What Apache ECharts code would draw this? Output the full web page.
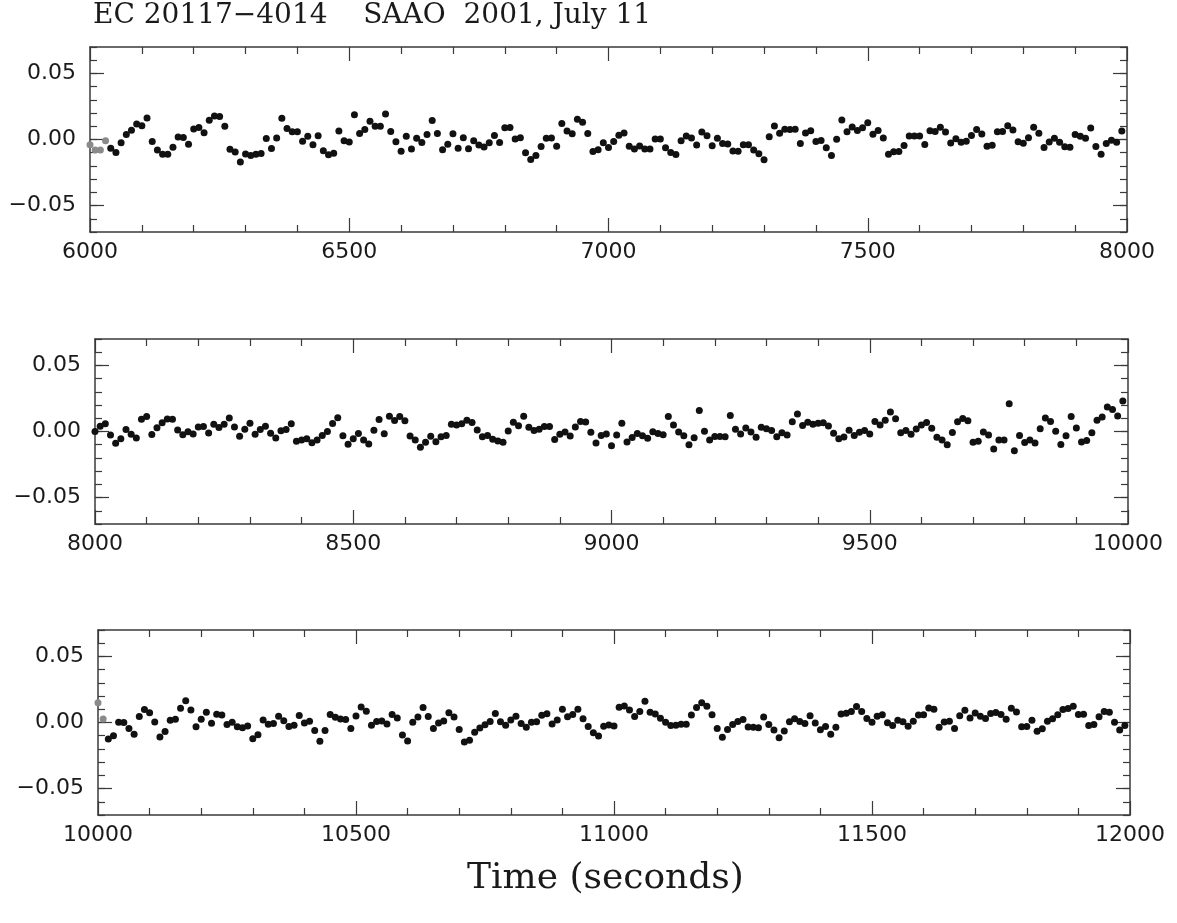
<!DOCTYPE html>
<html><head><meta charset="utf-8">
<script src="https://cdn.jsdelivr.net/npm/echarts@6/dist/echarts.min.js"></script>
<style>html,body{margin:0;padding:0;background:#fff}#c{width:1177px;height:923px}</style>
</head><body><div id="c"></div>
<script>
const titleText = 'EC 20117\u22124014    SAAO  2001, July 11';
const xAxisTitle = 'Time (seconds)';

const t1 = [6000,6010,6020,6030,6040,6050,6060,6070,6080,6090,6100,6110,6120,6130,6140,6150,6160,6170,6180,6190,
6200,6210,6220,6230,6240,6250,6260,6270,6280,6290,6300,6310,6320,6330,6340,6350,6360,6370,6380,6390,
6400,6410,6420,6430,6440,6450,6460,6470,6480,6490,6500,6510,6520,6530,6540,6550,6560,6570,6580,6590,
6600,6610,6620,6630,6640,6650,6660,6670,6680,6690,6700,6710,6720,6730,6740,6750,6760,6770,6780,6790,
6800,6810,6820,6830,6840,6850,6860,6870,6880,6890,6900,6910,6920,6930,6940,6950,6960,6970,6980,6990,
7000,7010,7020,7030,7040,7050,7060,7070,7080,7090,7100,7110,7120,7130,7140,7150,7160,7170,7180,7190,
7200,7210,7220,7230,7240,7250,7260,7270,7280,7290,7300,7310,7320,7330,7340,7350,7360,7370,7380,7390,
7400,7410,7420,7430,7440,7450,7460,7470,7480,7490,7500,7510,7520,7530,7540,7550,7560,7570,7580,7590,
7600,7610,7620,7630,7640,7650,7660,7670,7680,7690,7700,7710,7720,7730,7740,7750,7760,7770,7780,7790,
7800,7810,7820,7830,7840,7850,7860,7870,7880,7890,7900,7910,7920,7930,7940,7950,7960,7970,7980,7990];
const y1 = [-0.004,-0.008,-0.008,-0.001,-0.0067,-0.0098,-0.0025,0.0037,0.007,0.0117,
0.0105,0.0162,-0.0015,-0.0079,-0.0112,-0.0112,-0.0059,0.0018,0.0016,-0.0035,
0.008,0.009,0.0052,0.0145,0.0178,0.0175,0.0101,-0.0074,-0.0094,-0.017,
-0.011,-0.0121,-0.0111,-0.0106,0.0007,-0.0069,0.0011,0.016,0.0084,0.0058,
0.0058,-0.0013,0.0024,-0.0039,0.0029,-0.0085,-0.0116,-0.0104,0.0065,-0.0009,
-0.0019,0.0188,0.0046,0.0076,0.0138,0.01,0.01,0.0193,0.0061,-0.0017,
-0.0089,0.0025,-0.0072,0.0009,-0.0022,0.0038,0.0144,0.0045,-0.0077,-0.0036,
0.0044,-0.0067,0.0013,-0.007,-0.001,-0.0041,-0.0057,-0.0024,0.0031,-0.0022,
0.0088,0.0091,0.0004,0.0014,-0.01,-0.0151,-0.0121,-0.0053,0.001,0.0012,
-0.0052,0.0122,0.0064,0.0043,0.0154,0.0131,0.0045,-0.009,-0.0078,-0.0025,
-0.0061,-0.0015,0.0032,0.0049,-0.0052,-0.0072,-0.005,-0.0071,-0.0071,0.0004,
0.0004,-0.0062,-0.0098,-0.0113,-0.001,0.0027,0.0012,-0.0042,0.0057,0.0028,
-0.0048,0.001,-0.0031,-0.0034,-0.0087,-0.0088,-0.004,-0.004,-0.0079,-0.0107,
-0.0153,0.0021,0.0102,0.0048,0.0078,0.0075,0.0078,-0.0031,0.0049,0.0067,
-0.0015,-0.0007,-0.0063,-0.0122,0.0002,0.0148,0.0059,0.0094,0.0068,0.0088,
0.0126,0.004,0.0069,0.0011,-0.0111,-0.0093,-0.0091,-0.0046,0.0027,0.0026,
0.0026,-0.0038,0.0066,0.006,0.0092,0.0057,-0.0027,0.0006,-0.002,-0.0013,
0.003,0.0075,0.0042,-0.0052,-0.0043,0.0058,0.006,0.0105,0.0072,-0.0017,
-0.0029,0.0013,0.0093,0.0047,-0.0061,-0.0019,0.0009,-0.002,-0.0055,-0.0058,
0.0037,0.0024,0.0009,0.0087,-0.0053,-0.0111,-0.0031,-0.0006,-0.0021,0.0064];

const t2 = [8000,8010,8020,8030,8040,8050,8060,8070,8080,8090,8100,8110,8120,8130,8140,8150,8160,8170,8180,8190,
8200,8210,8220,8230,8240,8250,8260,8270,8280,8290,8300,8310,8320,8330,8340,8350,8360,8370,8380,8390,
8400,8410,8420,8430,8440,8450,8460,8470,8480,8490,8500,8510,8520,8530,8540,8550,8560,8570,8580,8590,
8600,8610,8620,8630,8640,8650,8660,8670,8680,8690,8700,8710,8720,8730,8740,8750,8760,8770,8780,8790,
8800,8810,8820,8830,8840,8850,8860,8870,8880,8890,8900,8910,8920,8930,8940,8950,8960,8970,8980,8990,
9000,9010,9020,9030,9040,9050,9060,9070,9080,9090,9100,9110,9120,9130,9140,9150,9160,9170,9180,9190,
9200,9210,9220,9230,9240,9250,9260,9270,9280,9290,9300,9310,9320,9330,9340,9350,9360,9370,9380,9390,
9400,9410,9420,9430,9440,9450,9460,9470,9480,9490,9500,9510,9520,9530,9540,9550,9560,9570,9580,9590,
9600,9610,9620,9630,9640,9650,9660,9670,9680,9690,9700,9710,9720,9730,9740,9750,9760,9770,9780,9790,
9800,9810,9820,9830,9840,9850,9860,9870,9880,9890,9900,9910,9920,9930,9940,9950,9960,9970,9980,9990];
const y2 = [0,0.004,0.0058,-0.0027,-0.0088,-0.0055,0.0016,-0.0021,-0.0049,0.0093,
0.0113,-0.0022,0.0028,0.0066,0.0094,0.0093,0.0011,-0.0024,-0.0002,-0.0018,
0.0035,0.0037,-0.0011,0.0055,0.0031,0.0054,0.0102,0.0035,-0.0036,0.0017,
0.0062,-0.002,0.0015,0.004,-0.0013,-0.0049,0.0006,0.0016,0.0059,-0.0074,
-0.0064,-0.0054,-0.0085,-0.0065,-0.003,0,0.0061,0.0104,-0.0032,-0.0096,
-0.0055,-0.0015,-0.0064,-0.0095,0.0009,0.009,-0.0017,0.0115,0.0084,0.0114,
0.0081,-0.0034,-0.0065,-0.0119,-0.0081,-0.0036,-0.0077,-0.0039,-0.003,0.0054,
0.0049,0.0059,0.0086,0.0068,0.0011,-0.004,-0.003,-0.0058,-0.0071,-0.0082,
0.0004,0.007,0.0044,0.0115,0.0033,0.0007,0.0017,0.0037,0.0037,-0.0061,
-0.002,-0.0003,-0.0034,0.0035,0.0075,0.0072,-0.0005,-0.0087,-0.0031,-0.0019,
-0.0108,-0.0027,0.0062,-0.0079,-0.0046,-0.0016,-0.0032,-0.0052,-0.0002,-0.0015,
-0.0025,0.0114,0.005,-0.0004,-0.0032,-0.0101,-0.0048,0.0158,0.0002,-0.0065,
-0.0037,-0.0037,-0.004,0.0122,0.0017,-0.0019,0.0027,-0.0004,-0.0043,0.0033,
0.002,0.0007,-0.0039,-0.0009,-0.0027,0.0074,0.0132,0.0045,0.007,0.0055,
0.0062,0.0067,0.0041,-0.0013,-0.0054,-0.0042,0.0009,-0.003,-0.0005,0.0007,
-0.0018,0.0076,0.005,0.0085,0.0148,0.0097,-0.001,0.0007,-0.0021,0.0019,
0.0049,0.0069,0.0025,-0.0044,-0.0065,-0.01,-0.0007,0.0074,0.0099,0.0081,
-0.0082,-0.0073,-0.0004,-0.0027,-0.0132,-0.0064,-0.0064,0.021,-0.0146,-0.003,
-0.0084,-0.0064,-0.0087,0.002,0.0103,0.0075,0.0001,-0.0099,-0.0033,0.0114,
0.0027,-0.008,-0.0068,-0.001,0.0086,0.0109,0.0185,0.0167,0.0118,0.023];

const t3 = [10000,10010,10020,10030,10040,10050,10060,10070,10080,10090,10100,10110,10120,10130,10140,10150,10160,10170,10180,10190,
10200,10210,10220,10230,10240,10250,10260,10270,10280,10290,10300,10310,10320,10330,10340,10350,10360,10370,10380,10390,
10400,10410,10420,10430,10440,10450,10460,10470,10480,10490,10500,10510,10520,10530,10540,10550,10560,10570,10580,10590,
10600,10610,10620,10630,10640,10650,10660,10670,10680,10690,10700,10710,10720,10730,10740,10750,10760,10770,10780,10790,
10800,10810,10820,10830,10840,10850,10860,10870,10880,10890,10900,10910,10920,10930,10940,10950,10960,10970,10980,10990,
11000,11010,11020,11030,11040,11050,11060,11070,11080,11090,11100,11110,11120,11130,11140,11150,11160,11170,11180,11190,
11200,11210,11220,11230,11240,11250,11260,11270,11280,11290,11300,11310,11320,11330,11340,11350,11360,11370,11380,11390,
11400,11410,11420,11430,11440,11450,11460,11470,11480,11490,11500,11510,11520,11530,11540,11550,11560,11570,11580,11590,
11600,11610,11620,11630,11640,11650,11660,11670,11680,11690,11700,11710,11720,11730,11740,11750,11760,11770,11780,11790,
11800,11810,11820,11830,11840,11850,11860,11870,11880,11890,11900,11910,11920,11930,11940,11950,11960,11970,11980,11990];
const y3 = [0.0149,0.0027,-0.0125,-0.01,0.0001,0,-0.0046,-0.0089,0.0045,0.0098,
0.0074,0.0003,-0.0109,-0.0069,0.0017,0.0024,0.0108,0.0165,0.0094,-0.0033,
0.0025,0.0078,-0.0006,0.0062,0.0056,-0.0015,0.0002,-0.0033,-0.0039,-0.0027,
-0.0123,-0.0093,0.0018,-0.0013,-0.0008,0.0047,0.0014,-0.003,-0.002,0.0053,
-0.0003,0.0009,-0.006,-0.0141,-0.006,0.0061,0.004,0.0027,0.0022,-0.0045,
0.0049,0.0117,0.0086,-0.0021,0.0007,0.0011,-0.0012,0.0061,0.0035,-0.0094,
-0.014,0.0001,0.0041,0.0114,0.0046,-0.0046,-0.0003,0.0012,0.0074,0.0041,
-0.0053,-0.0147,-0.0135,-0.0074,-0.0042,-0.0017,0.0008,0.0068,0.0005,-0.0021,
0.0019,0.0047,-0.0007,-0.0035,0.0002,0.0005,0.0055,0.0067,-0.0012,0.0018,
0.0101,0.0043,0.006,0.01,0.0029,-0.003,-0.0078,-0.0102,-0.0028,-0.0019,
-0.0027,0.0115,0.0124,0.0094,0.0045,0.0083,0.0161,0.0077,0.0064,0.0033,
0.0002,-0.0023,-0.0021,-0.0014,-0.0014,0.0056,0.0114,0.0149,0.0123,0.0059,
-0.0045,-0.0111,-0.0053,-0.0015,0.0007,0.0022,-0.0034,-0.0035,-0.004,0.0041,
-0.0016,-0.0056,-0.0115,-0.0065,0.0006,0.0028,0.0007,-0.0008,0.0052,-0.0004,
-0.0055,-0.003,-0.0089,-0.0036,0.0065,0.007,0.0084,0.0122,0.0084,0.003,
0.0002,0.0047,0.0059,-0.0002,-0.0023,0.0017,0.0005,-0.0029,0.0009,0.0056,
0.0059,0.0109,0.0101,-0.0036,0.0004,0.0009,-0.0045,0.0051,0.0093,0.0035,
0.0072,0.0047,0.0031,0.0069,0.0076,0.006,0.0025,0.0108,0.008,-0.0032,
-0.003,0.0017,-0.0066,-0.0047,0.0009,0.0029,0.0058,0.0099,0.0106,0.0123,
0.006,0.0062,-0.0022,-0.0015,0.0043,0.0083,0.0077,0.0001,-0.0057,-0.0022];

const xRanges = [[6000, 8000], [8000, 10000], [10000, 12000]];
const yRange = [-0.07, 0.07];
const yMajorTicks = [-0.05, 0, 0.05];
const yMinorTicks = [-0.07, -0.06, -0.05, -0.04, -0.03, -0.02, -0.01, 0, 0.01, 0.02, 0.03, 0.04, 0.05, 0.06, 0.07];
const xMajorInterval = 500;
const xMinorSplit = 5;
// number of leading points drawn in grey in each panel (as in the reference)
const greyLeading = [4, 0, 2];

const panels = [
  {t: t1, y: y1},
  {t: t2, y: y2},
  {t: t3, y: y3}
];
const gridBoxes = [
  {left: 90, top: 47, width: 1037, height: 185},
  {left: 95, top: 339, width: 1033, height: 185},
  {left: 98, top: 630, width: 1032, height: 185}
];

const frameColor = '#3a3a3a';
const textColor = '#1a1a1a';
const labelFont = 'DejaVu Sans';
const serifFont = 'DejaVu Serif';

const xAxes = [], yAxes = [], series = [];
panels.forEach((p, i) => {
  const [xmin, xmax] = xRanges[i];
  const lineStyle = {color: frameColor, width: 1.5};
  const tickStyle = {color: frameColor, width: 1.2};
  xAxes.push({
    gridIndex: i, type: 'value', position: 'bottom', min: xmin, max: xmax, interval: xMajorInterval,
    axisLine: {show: true, onZero: false, lineStyle},
    axisTick: {show: true, inside: true, length: 14, lineStyle: tickStyle},
    minorTick: {show: true, splitNumber: xMinorSplit, length: 7, lineStyle: tickStyle},
    axisLabel: {show: true, margin: 9, color: textColor, fontFamily: labelFont, fontSize: 22, formatter: v => String(v)},
    splitLine: {show: false}
  });
  xAxes.push({
    gridIndex: i, type: 'value', position: 'top', min: xmin, max: xmax, interval: xMajorInterval,
    axisLine: {show: true, onZero: false, lineStyle},
    axisTick: {show: true, inside: true, length: 14, lineStyle: tickStyle},
    minorTick: {show: true, splitNumber: xMinorSplit, length: 7, lineStyle: tickStyle},
    axisLabel: {show: false}, splitLine: {show: false}
  });
  yAxes.push({
    gridIndex: i, type: 'value', position: 'left', min: yRange[0], max: yRange[1],
    axisLine: {show: true, onZero: false, lineStyle},
    axisTick: {show: true, inside: true, length: 14, customValues: yMajorTicks, lineStyle: tickStyle},
    axisLabel: {show: true, margin: 14, customValues: yMajorTicks, color: textColor, fontFamily: labelFont, fontSize: 22,
      formatter: v => (v < 0 ? '\u2212' : '') + Math.abs(v).toFixed(2)},
    splitLine: {show: false}
  });
  yAxes.push({
    gridIndex: i, type: 'value', position: 'left', min: yRange[0], max: yRange[1],
    axisLine: {show: false},
    axisTick: {show: true, inside: true, length: 7, customValues: yMinorTicks, lineStyle: tickStyle},
    axisLabel: {show: false}, splitLine: {show: false}
  });
  yAxes.push({
    gridIndex: i, type: 'value', position: 'right', min: yRange[0], max: yRange[1],
    axisLine: {show: true, onZero: false, lineStyle},
    axisTick: {show: true, inside: true, length: 14, customValues: yMajorTicks, lineStyle: tickStyle},
    axisLabel: {show: false}, splitLine: {show: false}
  });
  yAxes.push({
    gridIndex: i, type: 'value', position: 'right', min: yRange[0], max: yRange[1],
    axisLine: {show: false},
    axisTick: {show: true, inside: true, length: 7, customValues: yMinorTicks, lineStyle: tickStyle},
    axisLabel: {show: false}, splitLine: {show: false}
  });
  series.push({
    type: 'scatter', xAxisIndex: i * 2, yAxisIndex: i * 4,
    symbol: 'circle', symbolSize: 7,
    itemStyle: {color: '#111111', opacity: 1},
    silent: true, animation: false,
    data: p.t.map((t, k) => k < greyLeading[i]
      ? {value: [t, p.y[k]], itemStyle: {color: '#8a8a8a'}}
      : [t, p.y[k]])
  });
});

const chart = echarts.init(document.getElementById('c'), null, {renderer: 'canvas'});
chart.setOption({
  backgroundColor: '#ffffff',
  animation: false,
  title: [
    {text: titleText, left: 88, top: -3,
      textStyle: {fontFamily: serifFont, fontWeight: 'normal', fontSize: 28, color: textColor}},
    {text: xAxisTitle, left: 462, top: 856,
      textStyle: {fontFamily: serifFont, fontWeight: 'normal', fontSize: 36, color: textColor}}
  ],
  grid: gridBoxes.map(g => Object.assign({containLabel: false}, g)),
  xAxis: xAxes,
  yAxis: yAxes,
  series
});
</script>
</body></html>
